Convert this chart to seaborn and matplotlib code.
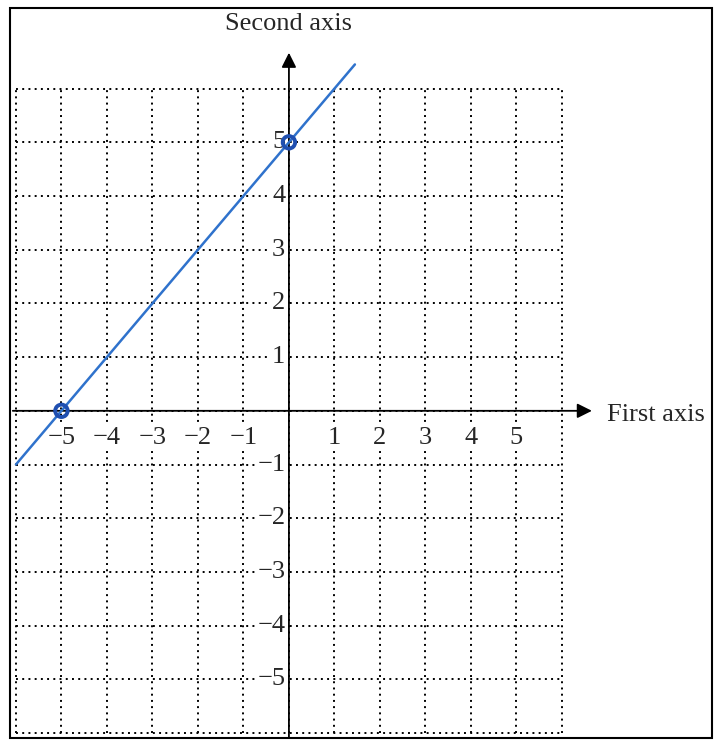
import numpy as np
import pandas as pd
import seaborn as sns
import matplotlib.pyplot as plt
from matplotlib.patches import Rectangle

# line y = x + 5 and the two intercepts
line_x = [-6, 1.45]
line_y = [-1, 6.45]
point_x = [-5, 0]
point_y = [0, 5]

x_ticks = [-5, -4, -3, -2, -1, 1, 2, 3, 4, 5]
y_ticks = [5, 4, 3, 2, 1, -1, -2, -3, -4, -5]
grid_vals = list(range(-6, 7))

sns.set_style("white")
plt.rcParams['font.family'] = ['Liberation Serif', 'DejaVu Serif']

fig = plt.figure(figsize=(7.23, 7.40), dpi=100)
ax = fig.add_axes([0, 0, 1, 1])
ax.set_xlim(-6.35, 9.54)
ax.set_ylim(-6.13, 7.65)
ax.axis('off')

# dotted grid
ax.vlines(grid_vals, -6, 6, colors='black', linestyles=(0, (1, 2.2)), lw=1.4)
ax.hlines(grid_vals, -6, 6, colors='black', linestyles=(0, (1, 2.2)), lw=1.4)

# axes with arrows
ax.annotate('', xy=(6.72, 0), xytext=(-6.13, 0),
            arrowprops=dict(arrowstyle='-|>', mutation_scale=22, color='black', lw=1.3))
ax.annotate('', xy=(0, 6.72), xytext=(0, -6.13),
            arrowprops=dict(arrowstyle='-|>', mutation_scale=22, color='black', lw=1.3))

box = dict(facecolor='white', edgecolor='none', pad=1)
for t in x_ticks:
    ax.text(t, -0.5, str(t).replace('-', '\u2212'), ha='center', va='center',
            fontsize=19, bbox=box, zorder=3)
for t in y_ticks:
    ax.text(-0.08, t, str(t).replace('-', '\u2212'), ha='right', va='center',
            fontsize=19, bbox=box, zorder=3)

df_line = pd.DataFrame({'x': line_x, 'y': line_y})
sns.lineplot(data=df_line, x='x', y='y', color='#2f72cc', lw=1.8, ax=ax, zorder=4)
df_pts = pd.DataFrame({'x': point_x, 'y': point_y})
sns.scatterplot(data=df_pts, x='x', y='y', s=80, facecolor='none',
                edgecolor='#1f4fb0', linewidth=2.8, ax=ax, zorder=5)
ax.set_xlabel('')
ax.set_ylabel('')

ax.text(0, 7.2, 'Second axis', ha='center', va='center', fontsize=19)
ax.text(7.0, -0.08, 'First axis', ha='left', va='center', fontsize=19)

fig.patches.append(Rectangle((10 / 723, 2 / 740), 702 / 723, 730 / 740,
                             transform=fig.transFigure, fill=False,
                             edgecolor='black', lw=1.5))

fig.savefig('out.png', dpi=100)
